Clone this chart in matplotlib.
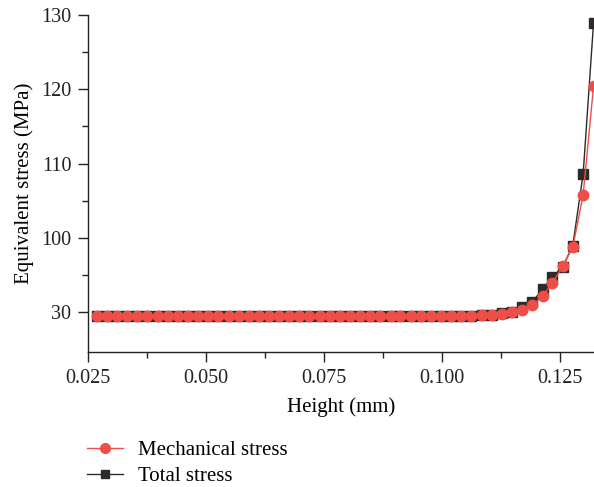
import numpy as np
import matplotlib
matplotlib.use("Agg")
import matplotlib.pyplot as plt
from matplotlib.lines import Line2D

## Data (y in plotted axis units; the "30" tick sits where 90 would be)
height = [0.0269, 0.0290, 0.0312, 0.0333, 0.0355, 0.0376, 0.0398, 0.0419, 0.0441, 0.0462,
          0.0483, 0.0505, 0.0526, 0.0548, 0.0569, 0.0591, 0.0612, 0.0634, 0.0655, 0.0676,
          0.0698, 0.0719, 0.0741, 0.0762, 0.0784, 0.0805, 0.0827, 0.0848, 0.0869, 0.0891,
          0.0912, 0.0934, 0.0955, 0.0977, 0.0998, 0.1020, 0.1041, 0.1062, 0.1084, 0.1105,
          0.1127, 0.1148, 0.1170, 0.1191, 0.1213, 0.1234, 0.1256, 0.1277, 0.1299, 0.1321]

mechanical = [89.5] * 38 + [89.58, 89.66, 89.80, 89.99, 90.26, 90.88, 92.14,
                            93.93, 96.18, 98.73, 105.8, 120.4]
total = [89.5] * 38 + [89.58, 89.66, 89.82, 90.05, 90.66, 91.33, 93.08,
                       94.70, 96.13, 98.95, 108.6, 128.9]

ytick_pos = [90, 100, 110, 120, 130]
ytick_lab = ['30', '100', '110', '120', '130']
xtick_pos = [0.025, 0.050, 0.075, 0.100, 0.125]

red = '#EF4D47'
dark = '#2E2A2A'

plt.rcParams['font.family'] = ['Liberation Serif', 'DejaVu Serif']

fig = plt.figure(figsize=(5.94, 4.87), dpi=100)
ax = fig.add_axes([0.148, 0.277, 0.852, 0.692])

ax.plot(height, total, color=dark, lw=1.0, marker='s', ms=6.5, clip_on=True,
        label='Total stress')
ax.plot(height, mechanical, color=red, lw=1.0, marker='o', ms=7.5, clip_on=True,
        label='Mechanical stress')

ax.set_xlim(0.025, 0.1322)
ax.set_ylim(84.6, 130)
ax.set_xticks(xtick_pos)
ax.set_xticklabels(['%.3f' % v for v in xtick_pos])
ax.set_xticks([0.0375, 0.0625, 0.0875, 0.1125], minor=True)
ax.set_yticks(ytick_pos)
ax.set_yticklabels(ytick_lab)
ax.set_yticks([95, 105, 115, 125], minor=True)

for s in ['top', 'right']:
    ax.spines[s].set_visible(False)
for s in ['left', 'bottom']:
    ax.spines[s].set_linewidth(1.0)
    ax.spines[s].set_color('#222222')
ax.tick_params(which='major', direction='out', length=7, width=1.0, labelsize=14.5,
               colors='#222222', pad=5)
ax.tick_params(which='minor', direction='out', length=4, width=1.0, colors='#222222')

ax.set_xlabel('Height (mm)', fontsize=15, labelpad=7)
ax.set_ylabel('Equivalent stress (MPa)', fontsize=15, labelpad=5)

handles = [Line2D([], [], color=red, lw=1.0, marker='o', ms=7),
           Line2D([], [], color=dark, lw=1.0, marker='s', ms=6)]
fig.legend(handles, ['Mechanical stress', 'Total stress'], loc='upper left',
           bbox_to_anchor=(0.146, 0.095), frameon=False, fontsize=15,
           handlelength=1.75, labelspacing=0.3, handletextpad=0.7, borderpad=0,
           borderaxespad=0)

fig.savefig('out.png', dpi=100)
